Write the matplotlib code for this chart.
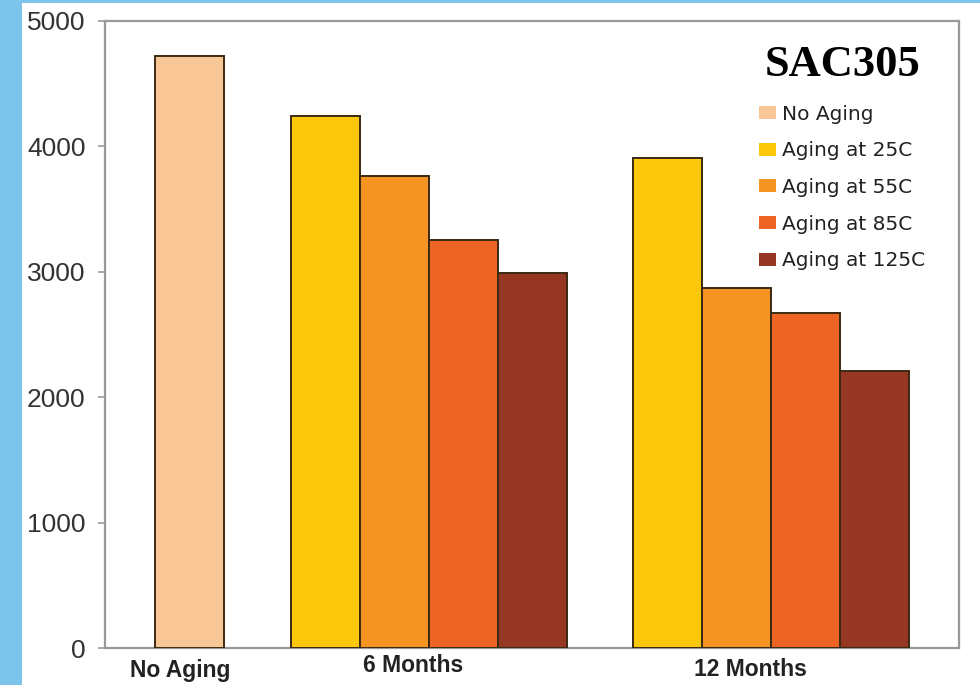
import matplotlib.pyplot as plt
from matplotlib.patches import Patch, Rectangle

# --- data ---
groups = ['No Aging', '6 Months', '12 Months']
series = ['No Aging', 'Aging at 25C', 'Aging at 55C', 'Aging at 85C', 'Aging at 125C']
colors = ['#F9C796', '#FCC80C', '#F59423', '#EE6424', '#963723']

no_aging = [4720]
months_6 = [4240, 3760, 3250, 2990]     # 25C, 55C, 85C, 125C
months_12 = [3905, 2870, 2670, 2210]

# --- layout (x in bar-width units) ---
group_centers = [1.23, 4.695, 9.645]
label_x = [1.09, 4.46, 9.36]
label_y = [-0.046, -0.038, -0.045]   # baselines, axes fraction
bar_w = 1.0
offsets = [-1.5, -0.5, 0.5, 1.5]

fig = plt.figure(figsize=(9.8, 6.85), dpi=100, facecolor='#7CC4E9')
# white panel sitting on the blue backdrop
panel = Rectangle((22 / 980, 0), 1 - 22 / 980, 682 / 685, transform=fig.transFigure,
                  facecolor='white', edgecolor='none', zorder=-1)
fig.add_artist(panel)

ax = fig.add_axes([105 / 980, 37 / 685, 854 / 980, 627 / 685])
ax.set_facecolor('white')
ax.set_zorder(1)

edge = '#3b2a12'
ax.bar(group_centers[0], no_aging[0], width=bar_w, color=colors[0],
       edgecolor=edge, linewidth=1.4, zorder=3)
for i, (v6, v12) in enumerate(zip(months_6, months_12)):
    ax.bar(group_centers[1] + offsets[i], v6, width=bar_w, color=colors[i + 1],
           edgecolor=edge, linewidth=1.4, zorder=3)
    ax.bar(group_centers[2] + offsets[i], v12, width=bar_w, color=colors[i + 1],
           edgecolor=edge, linewidth=1.4, zorder=3)

ax.set_xlim(0, 854 / 69)
ax.set_ylim(0, 5000)
ax.set_yticks([0, 1000, 2000, 3000, 4000, 5000])
ax.set_xticks([])
ax.tick_params(axis='y', direction='out', length=5, width=1.2, color='#999999',
               pad=9, labelsize=19, labelcolor='#333333')
for lbl in ax.get_yticklabels():
    lbl.set_fontfamily('Liberation Sans')

for s in ax.spines.values():
    s.set_color('#999999')
    s.set_linewidth(1.6)

# category names under each cluster
for x, y, name in zip(label_x, label_y, groups):
    ax.text(x, y, name, transform=ax.get_xaxis_transform(), ha='center', va='baseline',
            fontsize=16.5, fontweight='bold', family='Liberation Sans', color='#222222',
            clip_on=False)

handles = [Patch(facecolor=c, edgecolor='none') for c in colors]
leg = ax.legend(handles, series, loc='upper left', bbox_to_anchor=(745 / 980, 654 / 685),
                bbox_transform=fig.transFigure, frameon=False,
                prop={'family': 'DejaVu Sans', 'size': 14.5},
                handlelength=0.85, handleheight=0.6, handletextpad=0.3,
                labelspacing=0.88, borderpad=0.2)
leg.set_title('SAC305', prop={'family': 'Liberation Serif', 'weight': 'bold', 'size': 32})
leg._legend_box.sep = 14
for t in leg.get_texts():
    t.set_color('#222222')

fig.savefig('out.png', dpi=100, facecolor=fig.get_facecolor())
